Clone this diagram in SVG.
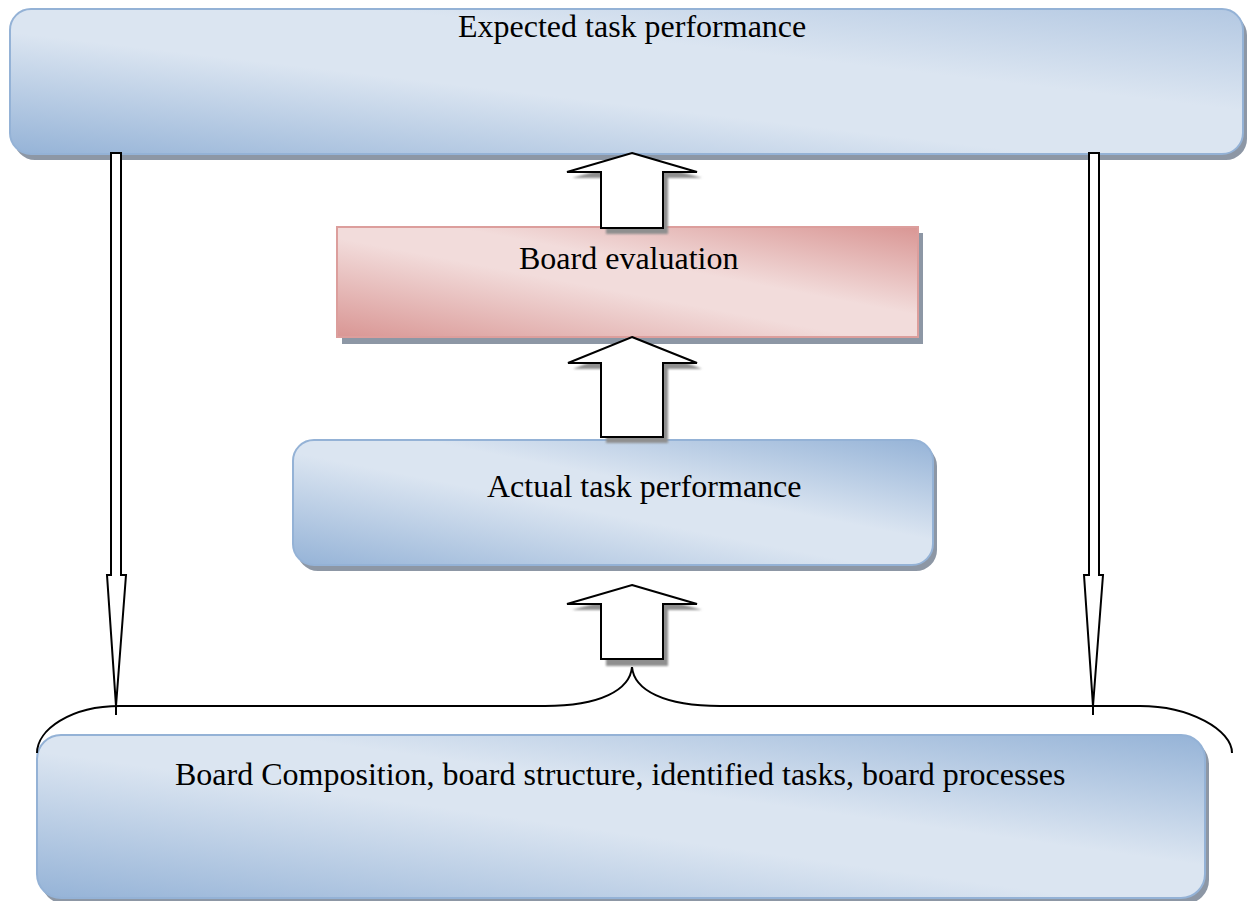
<svg xmlns="http://www.w3.org/2000/svg" width="1249" height="901" viewBox="0 0 1249 901">
<defs>
<linearGradient id="gBlue" x1="0" y1="1" x2="1" y2="0">
<stop offset="0" stop-color="#95b3d7"/>
<stop offset="0.45" stop-color="#dbe5f1"/>
<stop offset="0.6" stop-color="#dbe5f1"/>
<stop offset="1" stop-color="#95b3d7"/>
</linearGradient>
<linearGradient id="gTop" x1="0" y1="1" x2="1" y2="0">
<stop offset="0" stop-color="#95b3d7"/>
<stop offset="0.42" stop-color="#dbe5f1"/>
<stop offset="0.65" stop-color="#dbe5f1"/>
<stop offset="1" stop-color="#b3c8e2"/>
</linearGradient>
<linearGradient id="gPink" x1="0" y1="1" x2="1" y2="0">
<stop offset="0" stop-color="#d99694"/>
<stop offset="0.45" stop-color="#f2dcdb"/>
<stop offset="0.6" stop-color="#f2dcdb"/>
<stop offset="1" stop-color="#d99694"/>
</linearGradient>
<filter id="blur" x="-10%" y="-10%" width="120%" height="120%"><feGaussianBlur stdDeviation="1"/></filter>
</defs>
<style>
.blue{fill:url(#gBlue);stroke:#94b2d6;stroke-width:2}
.top{fill:url(#gTop);stroke:#94b2d6;stroke-width:2}
.pink{fill:url(#gPink);stroke:#dc9e9c;stroke-width:2}
.shadowBox{fill:#8d97a5}
.shadowArr{fill:#8f8f8f;filter:url(#blur)}
.arr{fill:#ffffff;stroke:#000000;stroke-width:2;stroke-linejoin:miter}
.line{fill:none;stroke:#000000;stroke-width:2}
text{font-family:"Liberation Serif","Times New Roman",serif;font-size:32px;fill:#000000}
</style>

<g id="expected">
<rect class="shadowBox" x="14" y="14" width="1233" height="146" rx="21"/>
<rect class="top" x="10" y="9" width="1233" height="145" rx="21"/>
<text x="458" y="37">Expected task performance</text>
</g>

<g id="evaluation">
<rect class="shadowBox" x="342" y="233" width="581" height="111" fill="#a8a0a0"/>
<rect class="pink" x="337" y="227" width="581" height="110"/>
<text x="519" y="269">Board evaluation</text>
</g>

<g id="actual">
<rect class="shadowBox" x="297" y="445" width="640" height="126" rx="21"/>
<rect class="blue" x="293" y="440" width="640" height="125" rx="21"/>
<text x="487" y="497">Actual task performance</text>
</g>

<g id="composition">
<rect class="shadowBox" x="41" y="740" width="1168" height="164" rx="24"/>
<rect class="blue" x="37" y="735" width="1168" height="163" rx="24"/>
<text x="175" y="785">Board Composition, board structure, identified tasks, board processes</text>
</g>

<g id="connectors">
<polygon class="shadowArr" points="637,159 702,178 668,178 668,234 606,234 606,178 572,178"/>
<polygon class="arr" points="632,153 697,172 663,172 663,228 601,228 601,172 567,172"/>
<polygon class="shadowArr" points="637,343 702,369 668,369 668,443 606,443 606,369 573,369"/>
<polygon class="arr" points="632,337 697,363 663,363 663,437 601,437 601,363 568,363"/>
<polygon class="shadowArr" points="637,591 702,610 668,610 668,666 606,666 606,610 572,610"/>
<polygon class="arr" points="632,585 697,604 663,604 663,659 601,659 601,604 567,604"/>
<polygon class="arr" points="111,153 121,153 121,575 126,575 116,706 107,575 111,575"/>
<polygon class="arr" points="1089,153 1099,153 1099,575 1103,575 1093,706 1084,575 1089,575"/>
<path class="line" d="M37,753 C37,730 70,706 120,706 L545,706 C600,706 630,690 632,667 C634,690 664,706 720,706 L1140,706 C1190,706 1232,730 1232,753"/>
<line class="line" x1="116" y1="700" x2="116" y2="715"/>
<line class="line" x1="1093" y1="700" x2="1093" y2="715"/>
</g>
</svg>
